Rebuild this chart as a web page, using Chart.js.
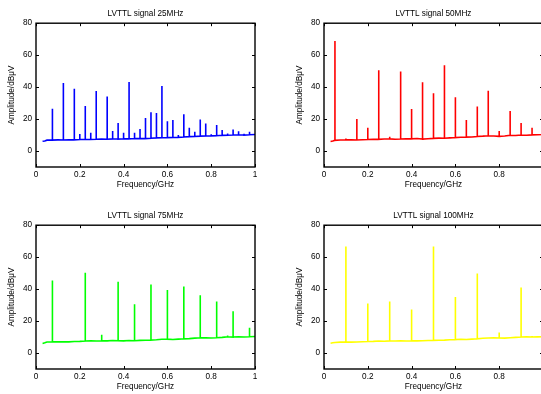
<!DOCTYPE html>
<html>
<head>
<meta charset="utf-8">
<script src="https://cdn.jsdelivr.net/npm/chart.js@4.4.1/dist/chart.umd.min.js"></script>
<style>
  html, body { margin: 0; padding: 0; background: #fff; overflow: hidden; width: 541px; height: 394px; }
  canvas { position: absolute; }
</style>
</head>
<body>
<canvas id="c25" width="270" height="197" style="left:0;top:0"></canvas>
<canvas id="c50" width="270" height="197" style="left:288px;top:0"></canvas>
<canvas id="c75" width="270" height="197" style="left:0;top:202px"></canvas>
<canvas id="c100" width="270" height="197" style="left:288px;top:202px"></canvas>
<script>
// Rejilla de frecuencias del suelo de ruido (GHz)
const floorFreq = [0.03, 0.04, 0.05, 0.075, 0.1, 0.125, 0.15, 0.175, 0.2, 0.225, 0.25, 0.275, 0.3, 0.325,
  0.35, 0.375, 0.4, 0.425, 0.45, 0.475, 0.5, 0.525, 0.55, 0.575, 0.6, 0.625, 0.65, 0.675, 0.7, 0.725,
  0.75, 0.775, 0.8, 0.825, 0.85, 0.875, 0.9, 0.925, 0.95, 0.975, 1.0];

const floor25 = [6.1, 6.3, 6.8, 6.8, 7.0, 6.9, 7.1, 7.0, 7.2, 7.3, 7.2, 7.4, 7.5, 7.4, 7.6, 7.5, 7.7, 7.6, 7.8, 7.9,
  7.8, 8.0, 8.2, 8.3, 8.4, 8.5, 8.6, 8.8, 9.0, 9.1, 9.3, 9.4, 9.5, 9.6, 9.8, 9.9, 10.0, 10.1, 10.0, 10.2, 10.3];
const floor50 = [6.0, 6.3, 6.7, 6.9, 7.1, 7.0, 6.9, 7.1, 7.2, 7.4, 7.3, 7.5, 7.6, 7.4, 7.5, 7.6, 7.6, 7.8, 7.5, 7.7,
  7.9, 8.1, 8.0, 8.2, 8.4, 8.6, 8.7, 8.8, 9.1, 9.3, 9.6, 9.4, 9.2, 9.4, 9.8, 9.7, 10.0, 9.9, 10.1, 10.2, 10.3];
const floor75 = [6.0, 6.4, 6.9, 7.0, 7.0, 7.1, 7.0, 7.2, 7.3, 7.5, 7.6, 7.5, 7.7, 7.6, 7.8, 7.7, 7.6, 7.8, 7.7, 7.9,
  8.0, 8.1, 8.3, 8.6, 8.7, 8.5, 8.7, 8.9, 9.0, 9.3, 9.5, 9.6, 9.4, 9.6, 9.8, 10.2, 10.0, 10.1, 10.0, 10.2, 10.3];
const floor100 = [6.1, 6.4, 6.6, 6.8, 6.9, 6.8, 6.9, 7.1, 7.2, 7.3, 7.5, 7.4, 7.6, 7.5, 7.6, 7.5, 7.7, 7.6, 7.7, 7.8,
  7.9, 8.0, 8.1, 8.3, 8.4, 8.6, 8.5, 8.7, 8.9, 9.2, 9.4, 9.5, 9.4, 9.3, 9.6, 9.8, 10.0, 10.1, 10.0, 10.1, 10.2];

// Armónicos (GHz) y su amplitud de pico (dBµV)
const peak25Freq = [0.075, 0.125, 0.175, 0.2, 0.225, 0.25, 0.275, 0.325, 0.35, 0.375, 0.4, 0.425, 0.45, 0.475,
  0.5, 0.525, 0.55, 0.575, 0.6, 0.625, 0.65, 0.675, 0.7, 0.725, 0.75, 0.775, 0.8, 0.825, 0.85, 0.875, 0.9,
  0.925, 0.95, 0.975];
const peak25Amp = [26.5, 42.6, 39.0, 10.6, 28.2, 11.5, 37.6, 34.2, 12.5, 17.5, 11.5, 43.2, 11.5, 13.8,
  20.7, 24.2, 23.8, 40.7, 18.6, 19.4, 10.0, 23.0, 14.6, 12.1, 19.8, 17.3, 10.5, 16.3, 13.2, 11.0, 13.4,
  12.3, 10.8, 12.1];
const peak50Freq = [0.05, 0.1, 0.15, 0.2, 0.25, 0.3, 0.35, 0.4, 0.45, 0.5, 0.55, 0.6, 0.65, 0.7, 0.75, 0.8,
  0.85, 0.9, 0.95, 1.0];
const peak50Amp = [68.9, 7.9, 20.0, 14.6, 50.5, 9.0, 49.7, 26.3, 43.0, 36.1, 53.7, 33.6, 19.4, 27.8, 37.8, 12.5,
  25.0, 17.5, 14.6, 11.3];
const peak75Freq = [0.075, 0.225, 0.3, 0.375, 0.45, 0.525, 0.6, 0.675, 0.75, 0.825, 0.875, 0.9, 0.975];
const peak75Amp = [45.4, 50.2, 11.5, 44.6, 30.6, 42.9, 39.4, 41.7, 36.2, 32.3, 11.0, 26.2, 15.8];
const peak100Freq = [0.1, 0.2, 0.3, 0.4, 0.5, 0.6, 0.7, 0.8, 0.9, 0.95];
const peak100Amp = [66.7, 31.0, 32.3, 27.3, 66.7, 35.0, 49.8, 12.9, 41.0, 10.6];

const xTicks = [0, 0.2, 0.4, 0.6, 0.8, 1];
const yTicks = [0, 20, 40, 60, 80];

Chart.defaults.font.family = "'Liberation Sans', Arial, Helvetica, sans-serif";
Chart.defaults.font.size = 8.2;
Chart.defaults.color = '#000';

// Marco tipo MATLAB con marcas hacia dentro
const boxPlugin = {
  id: 'box',
  afterDatasetsDraw(chart) {
    const { ctx, chartArea: a, scales: { x, y } } = chart;
    ctx.save();
    ctx.strokeStyle = '#000';
    ctx.lineWidth = 1.4;
    ctx.strokeRect(a.left, a.top, a.width, a.height);
    ctx.lineWidth = 1;
    ctx.beginPath();
    x.ticks.forEach(t => {
      const px = Math.round(x.getPixelForValue(t.value)) + 0.5;
      ctx.moveTo(px, a.bottom); ctx.lineTo(px, a.bottom - 3);
      ctx.moveTo(px, a.top); ctx.lineTo(px, a.top + 3);
    });
    y.ticks.forEach(t => {
      const py = Math.round(y.getPixelForValue(t.value)) + 0.5;
      ctx.moveTo(a.left, py); ctx.lineTo(a.left + 3, py);
      ctx.moveTo(a.right, py); ctx.lineTo(a.right - 3, py);
    });
    ctx.stroke();
    ctx.restore();
  }
};

// Construye la traza: suelo de ruido con los picos insertados en su frecuencia
function buildTrace(floor, peakFreq, peakAmp) {
  const pts = [];
  floorFreq.forEach((f, i) => {
    const k = peakFreq.findIndex(p => Math.abs(p - f) < 1e-6);
    pts.push({ x: f, y: floor[i] });
    if (k >= 0) {
      pts.push({ x: f, y: peakAmp[k] });
      pts.push({ x: f, y: floor[i] });
    }
  });
  return pts;
}

function renderPanel(id, title, color, floor, peakFreq, peakAmp) {
  const ctx = document.getElementById(id).getContext('2d');
  return new Chart(ctx, {
    type: 'line',
    data: {
      datasets: [{
        data: buildTrace(floor, peakFreq, peakAmp),
        borderColor: color,
        borderWidth: 1.6,
        pointRadius: 0,
        tension: 0,
        fill: false
      }]
    },
    options: {
      responsive: false,
      animation: false,
      devicePixelRatio: 1,
      layout: { padding: { left: 0, right: 15, top: 0, bottom: 0 } },
      plugins: {
        legend: { display: false },
        tooltip: { enabled: false },
        title: {
          display: true,
          text: title,
          fullSize: false,
          color: '#000',
          font: { size: 8.2, weight: 'normal', lineHeight: 1 },
          padding: { top: 10, bottom: 5 }
        }
      },
      scales: {
        x: {
          type: 'linear',
          min: 0,
          max: 1,
          grid: { display: false, drawTicks: false },
          border: { display: false },
          afterBuildTicks: s => { s.ticks = xTicks.map(v => ({ value: v })); },
          afterFit: s => { s.height = 30; },
          ticks: { padding: 3, maxRotation: 0, autoSkip: false, color: '#000', callback: v => String(v) },
          title: { display: true, text: 'Frequency/GHz', color: '#000', font: { size: 8.2 }, padding: { top: 0, bottom: 7 } }
        },
        y: {
          min: -10,
          max: 80,
          grid: { display: false, drawTicks: false },
          border: { display: false },
          afterBuildTicks: s => { s.ticks = yTicks.map(v => ({ value: v })); },
          afterFit: s => { s.width = 36; },
          ticks: { padding: 4, color: '#000', callback: v => String(v) },
          title: { display: true, text: 'Amplitude/dBμV', color: '#000', font: { size: 8.2 }, padding: { top: 7, bottom: 0 } }
        }
      }
    },
    plugins: [boxPlugin]
  });
}

renderPanel('c25', 'LVTTL signal 25MHz', '#0000ff', floor25, peak25Freq, peak25Amp);
renderPanel('c50', 'LVTTL signal 50MHz', '#ff0000', floor50, peak50Freq, peak50Amp);
renderPanel('c75', 'LVTTL signal 75MHz', '#00ff00', floor75, peak75Freq, peak75Amp);
renderPanel('c100', 'LVTTL signal 100MHz', '#ffff00', floor100, peak100Freq, peak100Amp);
</script>
</body>
</html>
